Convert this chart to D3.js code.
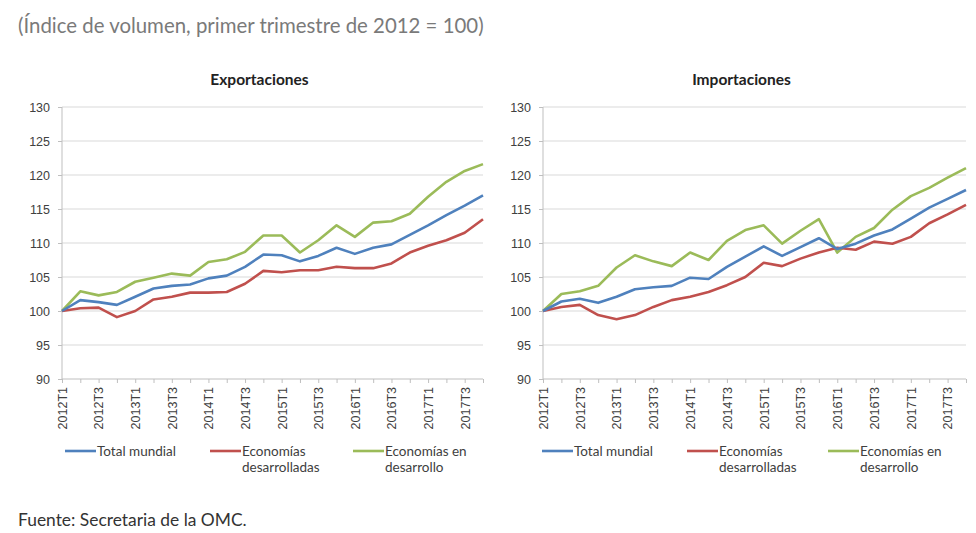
<!DOCTYPE html>
<html>
<head>
<meta charset="utf-8">
<script src="https://cdn.jsdelivr.net/npm/d3@7"></script>
<style>
  body { margin: 0; background: #fff; }
  svg { display: block; font-family: Lato, "Open Sans", sans-serif; }
  .grid line { stroke: #d9d9d9; stroke-width: 1; }
  .axis path, .axis line { stroke: #bfbfbf; }
  .axis text { fill: #404040; }
</style>
</head>
<body>
<div id="chart"></div>
<script>
"use strict";
// quarters 2012T1 .. 2017T4
var quarters = [];
[2012, 2013, 2014, 2015, 2016, 2017].forEach(function(y) {
  for (var q = 1; q <= 4; q++) quarters.push(y + "T" + q);
});

var yTicks = [90, 95, 100, 105, 110, 115, 120, 125, 130];

var seriesNames = ["Total mundial", "Economías desarrolladas", "Economías en desarrollo"];
var seriesColors = ["#4f81bd", "#c0504d", "#9bbb59"];

// exportaciones
var expTotal = [100, 101.6, 101.3, 100.9, 102.1, 103.3, 103.7, 103.9, 104.8, 105.2, 106.5, 108.3,
  108.2, 107.3, 108.1, 109.3, 108.4, 109.3, 109.8, 111.2, 112.6, 114.1, 115.5, 117.0];
var expDev = [100, 100.4, 100.5, 99.1, 100.0, 101.7, 102.1, 102.7, 102.7, 102.8, 104.0, 105.9,
  105.7, 106.0, 106.0, 106.5, 106.3, 106.3, 107.0, 108.6, 109.6, 110.4, 111.5, 113.5];
var expDevping = [100, 102.9, 102.3, 102.8, 104.3, 104.9, 105.5, 105.2, 107.2, 107.6, 108.7, 111.1,
  111.1, 108.6, 110.4, 112.6, 110.9, 113.0, 113.2, 114.3, 116.8, 119.0, 120.6, 121.6];

// importaciones
var impTotal = [100, 101.4, 101.8, 101.2, 102.1, 103.2, 103.5, 103.7, 104.9, 104.7, 106.5, 108.0,
  109.5, 108.1, 109.4, 110.7, 109.1, 109.9, 111.1, 112.0, 113.6, 115.2, 116.5, 117.8];
var impDev = [100, 100.6, 100.9, 99.4, 98.8, 99.4, 100.6, 101.6, 102.1, 102.8, 103.8, 105.0,
  107.1, 106.6, 107.7, 108.6, 109.3, 109.0, 110.2, 109.9, 110.9, 112.9, 114.2, 115.6];
var impDevping = [100, 102.5, 102.9, 103.7, 106.4, 108.2, 107.3, 106.6, 108.6, 107.5, 110.3, 111.9,
  112.6, 109.9, 111.8, 113.5, 108.6, 110.9, 112.2, 114.9, 116.9, 118.1, 119.6, 121.0];

var w = 976, h = 533;

var svg = d3.select("#chart").append("svg")
  .attr("width", w)
  .attr("height", h);

svg.append("text")
  .attr("x", 18).attr("y", 33)
  .style("font-size", "20.4px")
  .style("fill", "#7a7a7a")
  .text("(Índice de volumen, primer trimestre de 2012 = 100)");

svg.append("text")
  .attr("x", 18).attr("y", 526)
  .style("font-size", "17.4px")
  .style("fill", "#333")
  .text("Fuente: Secretaria de la OMC.");

var y = d3.scaleLinear().domain([90, 130]).range([379, 107]);

drawPanel("Exportaciones", [expTotal, expDev, expDevping], 62, 483, [65, 210, 353]);
drawPanel("Importaciones", [impTotal, impDev, impDevping], 543, 966, [542, 687, 828]);

function drawPanel(title, series, x0, x1, legendX) {
  var x = d3.scalePoint().domain(quarters).range([x0, x1]);
  var g = svg.append("g");

  g.append("text")
    .attr("x", (x0 + x1) / 2 - 13)
    .attr("y", 85)
    .attr("text-anchor", "middle")
    .style("font-size", "15.5px")
    .style("font-weight", "bold")
    .style("fill", "#222")
    .text(title);

  //horizontal gridlines
  g.append("g")
    .attr("class", "grid")
    .selectAll("line")
    .data(yTicks.slice(1))
    .join("line")
    .attr("x1", x0).attr("x2", x1)
    .attr("y1", function(d) { return y(d); })
    .attr("y2", function(d) { return y(d); });

  var yAxis = g.append("g")
    .attr("class", "axis")
    .attr("transform", "translate(" + x0 + ",0)")
    .call(d3.axisLeft(y).tickValues(yTicks).tickSize(4).tickPadding(8));
  yAxis.select(".domain").attr("d", "M0," + y(90) + "V" + y(130));
  yAxis.selectAll("text").style("font-size", "12.5px");

  var xAxis = g.append("g")
    .attr("class", "axis")
    .attr("transform", "translate(0," + y(90) + ")")
    .call(d3.axisBottom(x)
      .tickSize(4)
      .tickFormat(function(d, i) { return i % 2 == 0 ? d : ""; }));
  xAxis.select(".domain").attr("d", "M" + x0 + ",0H" + x1);
  xAxis.selectAll("text")
    .style("font-size", "12.5px")
    .attr("transform", "rotate(-90)")
    .attr("text-anchor", "end")
    .attr("x", -8)
    .attr("y", 0)
    .attr("dy", "0.35em");

  var line = d3.line()
    .x(function(d, i) { return x(quarters[i]); })
    .y(function(d) { return y(d); });

  //draw developing first so total sits on top
  [2, 1, 0].forEach(function(k) {
    g.append("path")
      .datum(series[k])
      .attr("fill", "none")
      .attr("stroke", seriesColors[k])
      .attr("stroke-width", 2.6)
      .attr("stroke-linejoin", "round")
      .attr("d", line);
  });

  //legend
  var lines = [["Total mundial"], ["Economías", "desarrolladas"], ["Economías en", "desarrollo"]];
  lines.forEach(function(txt, k) {
    var lx = legendX[k];
    g.append("line")
      .attr("x1", lx).attr("x2", lx + 31)
      .attr("y1", 451).attr("y2", 451)
      .attr("stroke", seriesColors[k])
      .attr("stroke-width", 2.6);
    var t = g.append("text")
      .attr("x", lx + 32)
      .attr("y", 456)
      .style("font-size", "13.5px")
      .style("fill", "#404040");
    txt.forEach(function(s, j) {
      t.append("tspan")
        .attr("x", lx + 32)
        .attr("dy", j == 0 ? 0 : 16)
        .text(s);
    });
  });
}
</script>
</body>
</html>
